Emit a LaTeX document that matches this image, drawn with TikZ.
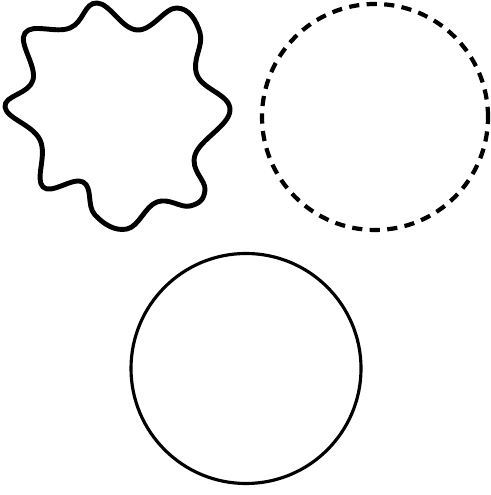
\documentclass[tikz,border=0pt]{standalone}
\usepackage{tikz}

\begin{document}
\begin{tikzpicture}[x=1cm,y=1cm,
  wavyline/.style={line width=1.4pt,line join=round},
  dashline/.style={line width=1.2pt,dash pattern=on 2.9pt off 2.1pt},
  plainline/.style={line width=0.9pt}]
\path[use as bounding box] (0,0) rectangle (4.90,4.95);
\fill[white] (0,0) rectangle (4.90,4.95);
\draw[wavyline] plot[smooth cycle,tension=0.7] coordinates {
  (0.97,4.92) (1.37,4.65) (1.77,4.87) (2.00,4.62) (1.97,4.20)
  (2.30,3.85) (1.95,3.40) (2.05,3.05) (1.90,2.89) (1.57,2.93)
  (1.27,2.66) (0.95,2.80) (0.83,3.13) (0.43,3.08) (0.40,3.55)
  (0.05,3.88) (0.33,4.15) (0.25,4.62) (0.70,4.67)};
\draw[dashline] (3.75,3.78) circle (1.13);
\draw[plainline] (2.46,1.265) circle (1.15);
\end{tikzpicture}
\end{document}
